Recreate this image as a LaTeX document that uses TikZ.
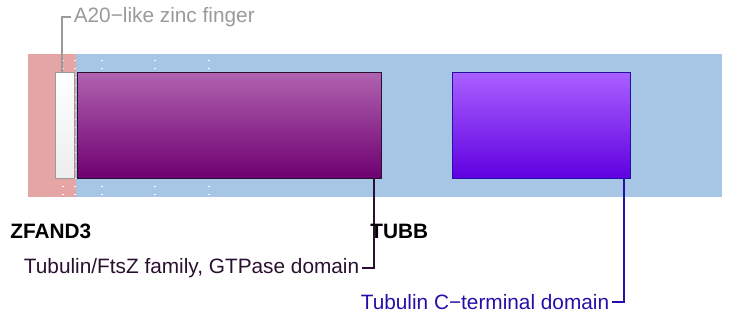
\documentclass[tikz,border=0pt]{standalone}
\usepackage{fontspec}
\setmainfont{Liberation Sans}
\usetikzlibrary{calc}
\definecolor{zfpink}{HTML}{E5A5A4}
\definecolor{tubblue}{HTML}{A7C5E4}
\definecolor{zfgrey}{HTML}{9A9A9A}
\definecolor{gtptop}{HTML}{B062B0}
\definecolor{gtpbot}{HTML}{6E0070}
\definecolor{gtpink}{HTML}{2A1030}
\definecolor{ctop}{HTML}{AA60FF}
\definecolor{cbot}{HTML}{5E00E0}
\definecolor{cink}{HTML}{2410A8}

\begin{document}
\begin{tikzpicture}[x=0.5pt, y=-0.5pt, font=\fontsize{10.4}{12}\selectfont,
  domainbox/.style={rectangle, draw, line width=0.6pt, inner sep=0pt,
                    minimum height=53pt, anchor=north west},
  domlab/.style={inner xsep=1.2pt, inner ysep=1pt},
  gene/.style={font=\fontsize{10.4}{12}\selectfont\bfseries, inner sep=0pt,
               anchor=base west},
  leader/.style={line width=0.9pt}]
  \useasboundingbox (0,0) rectangle (730,327);
  % protein backdrop
  \fill[zfpink] (28,54) rectangle (76,197);
  \fill[tubblue] (76,54) rectangle (722,197);
  \foreach \x in {63,75,102,155,209}{%
    \draw[white, line width=0.6pt, dash pattern=on 0.5pt off 3.7pt,
          dash phase=-3pt] (\x,54) -- (\x,197);}
  % domains
  \node[domainbox, draw=zfgrey, top color=white, bottom color=black!7,
        minimum width=9.5pt] (zf) at (55,72) {};
  \node[domainbox, draw=gtpink, top color=gtptop, bottom color=gtpbot,
        minimum width=152pt] (gtp) at (77,72) {};
  \node[domainbox, draw=cink, top color=ctop, bottom color=cbot,
        minimum width=89pt] (cterm) at (452,72) {};
  % labels
  \node[domlab, anchor=west, text=zfgrey] (zflab) at (71,17)
    {A20−like zinc finger};
  \node[domlab, anchor=east, text=gtpink] (gtplab) at (362,268)
    {Tubulin/FtsZ family, GTPase domain};
  \node[domlab, anchor=east, text=cink] (ctlab) at (612,302)
    {Tubulin C−terminal domain};
  \draw[leader, zfgrey] ($(zf.north)+(-3,0)$) |- (zflab.west);
  \draw[leader, gtpink] ($(gtp.south east)+(-8,0)$) |- (gtplab.east);
  \draw[leader, cink] ($(cterm.south east)+(-7,0)$) |- (ctlab.east);
  \node[gene] (zfand) at (10,238) {ZFAND3};
  \node[gene] (tubb) at (370,238) {TUBB};
\end{tikzpicture}
\end{document}
